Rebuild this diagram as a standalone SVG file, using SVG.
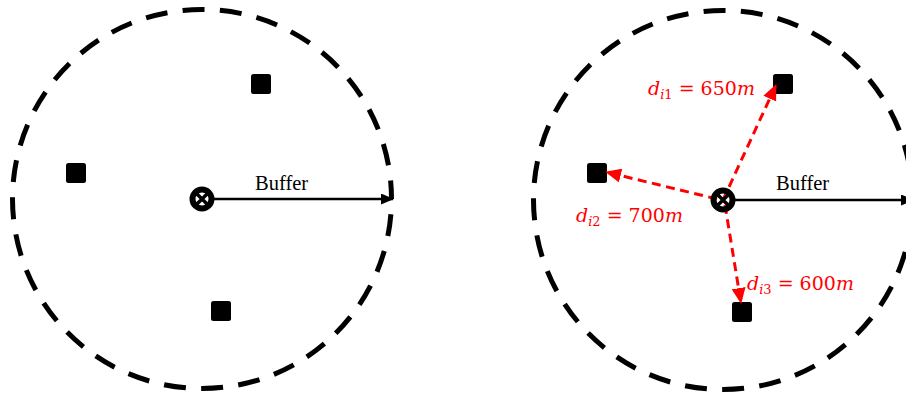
<svg xmlns="http://www.w3.org/2000/svg" width="906" height="395" viewBox="0 0 906 395">
<style>
.ring{fill:none;stroke:#000;stroke-width:5;stroke-dasharray:22 15.3;stroke-dashoffset:22}
.pt{fill:#000}
.buf{stroke:#000;stroke-width:2.4;fill:none}
.red{stroke:#ff0000;stroke-width:3;stroke-dasharray:9 5.5;fill:none}
.lbl{font-family:"Liberation Serif",serif;font-size:20.5px;fill:#000}
.math{font-family:"DejaVu Serif","Liberation Serif",serif;font-size:19px;fill:#ff0000}
.it{font-style:italic}
.sub{font-size:13px}
</style>
<defs>
<marker id="ab" viewBox="0 0 13 11" refX="12" refY="5.5" markerWidth="13" markerHeight="11" markerUnits="userSpaceOnUse" orient="auto"><path d="M0,0 L13,5.5 L0,11 Z" fill="#000"/></marker>
<marker id="ar" viewBox="0 0 16 14" refX="15" refY="7" markerWidth="16" markerHeight="14" markerUnits="userSpaceOnUse" orient="auto"><path d="M0,0 L16,7 L0,14 Z" fill="#ff0000"/></marker>
<symbol id="ctr" viewBox="-13 -13 26 26"><circle r="9.5" fill="none" stroke="#000" stroke-width="6"/><path d="M-6.5,-6.5 L6.5,6.5 M6.5,-6.5 L-6.5,6.5" stroke="#000" stroke-width="3.5"/></symbol>
</defs>
<g id="left">
<g id="ring-left"><circle class="ring" cx="202" cy="199" r="189.5"/></g>
<g id="pL1"><rect class="pt" x="251" y="74" width="20" height="20" rx="2.5"/></g>
<g id="pL2"><rect class="pt" x="66" y="163" width="20" height="20" rx="2.5"/></g>
<g id="pL3"><rect class="pt" x="211" y="301" width="20" height="20" rx="2.5"/></g>
<g id="connectors-left"><line class="buf" x1="212" y1="199" x2="393" y2="199" marker-end="url(#ab)"/></g>
<g id="centerL"><use href="#ctr" x="189" y="186" width="26" height="26"/></g>
<g id="labelL"><text class="lbl" x="255" y="190">Buffer</text></g>
</g>
<g id="right">
<g id="ring-right"><circle class="ring" cx="723" cy="200" r="189.5"/></g>
<g id="pR1"><rect class="pt" x="773" y="74" width="20" height="20" rx="2.5"/></g>
<g id="pR2"><rect class="pt" x="587" y="163" width="20" height="20" rx="2.5"/></g>
<g id="pR3"><rect class="pt" x="732" y="302" width="20" height="20" rx="2.5"/></g>
<g id="connectors-right">
<line class="buf" x1="733" y1="200" x2="913" y2="200" marker-end="url(#ab)"/>
<line class="red" x1="723" y1="200" x2="776" y2="85" marker-end="url(#ar)"/>
<line class="red" x1="717" y1="199" x2="606" y2="172" marker-end="url(#ar)"/>
<line class="red" x1="725" y1="205" x2="741" y2="303" marker-end="url(#ar)"/>
</g>
<g id="centerR"><use href="#ctr" x="710" y="187" width="26" height="26"/></g>
<g id="labelR"><text class="lbl" x="776" y="190">Buffer</text></g>
<g id="d1"><text class="math" x="648" y="95"><tspan class="it">d</tspan><tspan class="sub it" dy="4">i</tspan><tspan class="sub">1</tspan><tspan dy="-4"> = 650</tspan><tspan class="it">m</tspan></text></g>
<g id="d2"><text class="math" x="576" y="222"><tspan class="it">d</tspan><tspan class="sub it" dy="4">i</tspan><tspan class="sub">2</tspan><tspan dy="-4"> = 700</tspan><tspan class="it">m</tspan></text></g>
<g id="d3"><text class="math" x="747" y="290"><tspan class="it">d</tspan><tspan class="sub it" dy="4">i</tspan><tspan class="sub">3</tspan><tspan dy="-4"> = 600</tspan><tspan class="it">m</tspan></text></g>
</g>
</svg>
